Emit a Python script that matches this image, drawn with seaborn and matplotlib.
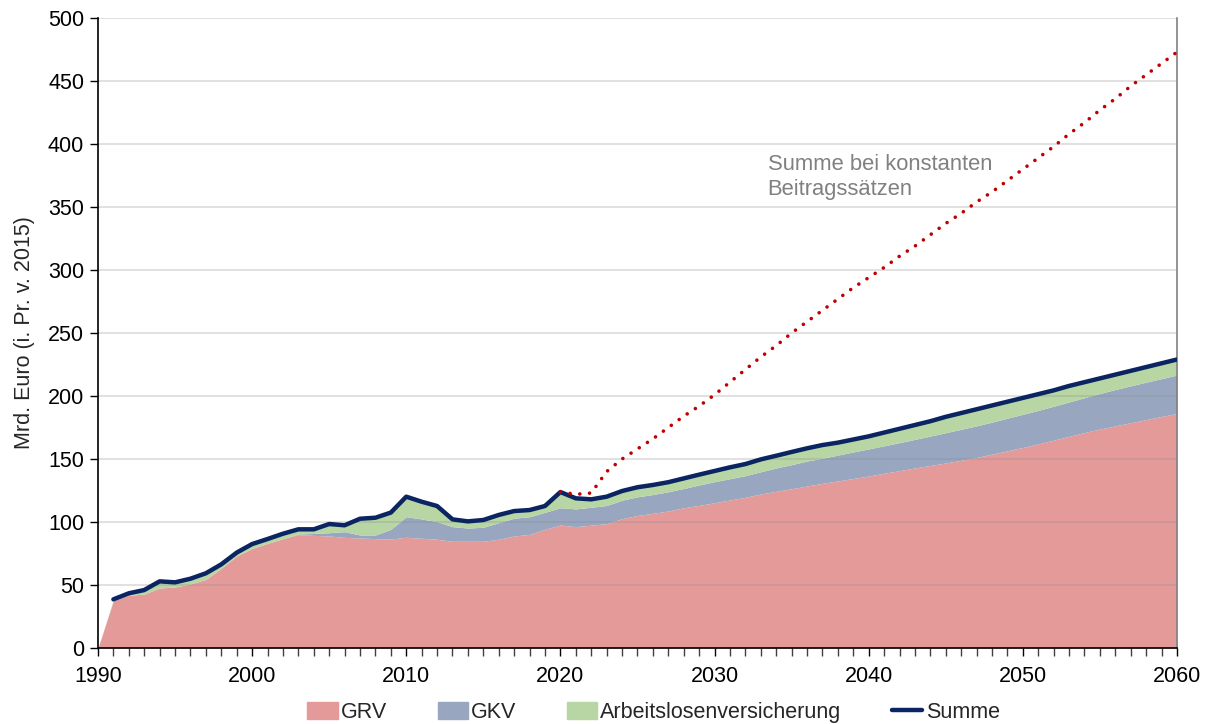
import numpy as np
import pandas as pd
import matplotlib
matplotlib.use('Agg')
import matplotlib.pyplot as plt
from matplotlib.ticker import MultipleLocator
from matplotlib.patches import Patch
from matplotlib.lines import Line2D
import seaborn as sns

# Jahre 1990 - 2060
years = list(range(1990, 2061))

# Gesetzliche Rentenversicherung (Mrd. Euro)
grv = [0, 37.5, 41.8, 42.8, 47.6, 48.4, 50.8, 54.5, 63.2, 73.0,
       79.0, 83.0, 86.8, 90.0, 89.4, 88.9, 87.8, 87.3, 86.8, 86.5,
       87.9, 87.1, 86.3, 84.7, 84.7, 84.7, 86.3, 88.9, 90.2, 94.2,
       97.6, 96.3, 97.5, 98.7, 102.6, 105.2, 106.9, 108.7, 111.3, 113.2,
       115.3, 117.5, 119.6, 122.2, 124.4, 126.4, 128.6, 130.7, 132.6, 134.5,
       136.5, 138.7, 140.8, 142.9, 144.9, 146.9, 149.0, 151.2, 153.9, 156.5,
       159.2, 162.0, 165.0, 168.0, 171.0, 173.8, 176.3, 178.8, 181.3, 183.8,
       186.2]

# Gesetzliche Krankenversicherung
gkv = [0, 0, 0, 0, 0, 0, 0, 0, 0, 0,
       0, 0, 0, 0.5, 1.5, 2.6, 4.5, 2.4, 2.9, 7.7,
       16.3, 15.3, 14.0, 11.6, 10.5, 11.1, 13.2, 14.1, 14.0, 13.5,
       13.7, 14.1, 14.2, 14.4, 14.7, 14.8, 14.9, 15.3, 15.3, 16.2,
       16.7, 16.9, 17.2, 17.7, 18.5, 19.1, 19.8, 19.9, 20.5, 21.1,
       21.5, 21.8, 22.2, 22.7, 23.3, 24.0, 24.6, 25.1, 25.4, 25.9,
       26.3, 26.6, 26.9, 27.3, 27.7, 28.2, 28.9, 29.3, 29.7, 30.0,
       30.5]

# Arbeitslosenversicherung
alv = [0, 1.1, 1.6, 3.2, 5.3, 3.7, 4.2, 4.8, 3.2, 2.7,
       3.5, 3.5, 3.9, 3.7, 3.3, 6.9, 5.1, 12.9, 13.7, 13.3,
       15.9, 13.7, 12.4, 5.8, 5.3, 5.8, 6.1, 5.7, 5.3, 5.0,
       12.5, 8.4, 6.3, 7.0, 7.3, 7.6, 7.6, 7.6, 8.0, 8.2,
       8.5, 9.0, 9.2, 9.8, 9.7, 10.1, 10.1, 10.5, 9.9, 9.9,
       10.0, 10.5, 11.0, 11.4, 11.8, 12.6, 12.9, 13.2, 13.2, 13.1,
       13.0, 12.9, 12.6, 12.7, 12.3, 12.0, 11.8, 11.9, 12.0, 12.2,
       12.3]

# Summe (ab 1991)
summe = [np.nan, 38.6, 43.4, 46.0, 52.9, 52.1, 55.0, 59.3, 66.4, 75.7,
         82.5, 86.5, 90.7, 94.2, 94.2, 98.4, 97.4, 102.6, 103.4, 107.5,
         120.1, 116.1, 112.7, 102.1, 100.5, 101.6, 105.6, 108.7, 109.5, 112.7,
         123.8, 118.8, 118.0, 120.1, 124.6, 127.6, 129.4, 131.6, 134.6, 137.6,
         140.5, 143.4, 146.0, 149.7, 152.6, 155.6, 158.5, 161.1, 163.0, 165.5,
         168.0, 171.0, 174.0, 177.0, 180.0, 183.5, 186.5, 189.5, 192.5, 195.5,
         198.5, 201.5, 204.5, 208.0, 211.0, 214.0, 217.0, 220.0, 223.0, 226.0,
         229.0]

# Summe bei konstanten Beitragssaetzen (2020 - 2060)
years_konst = list(range(2020, 2061))
summe_konst = [123.8, 122.0, 123.0, 140.0, 150.0, 158.0, 166.0, 175.0, 184.0, 192.0,
               201.0, 211.0, 221.0, 231.0, 240.0, 250.0, 259.0, 268.0, 277.0, 286.0,
               294.0, 302.0, 311.0, 319.0, 328.0, 337.0, 345.0, 354.0, 362.0, 371.0,
               380.0, 389.0, 398.0, 408.0, 417.0, 427.0, 436.0, 446.0, 455.0, 464.0,
               473.0]

df = pd.DataFrame({'Jahr': years, 'GRV': grv, 'GKV': gkv,
                   'Arbeitslosenversicherung': alv, 'Summe': summe})
df_konst = pd.DataFrame({'Jahr': years_konst, 'Summe': summe_konst})

sns.set_style('white')
plt.rcParams['font.family'] = ['Liberation Sans', 'DejaVu Sans']

c_grv = '#E59A9A'
c_gkv = '#99A6BF'
c_alv = '#B8D6A4'
c_sum = '#0B2462'
c_konst = '#C00000'
fs = 15.5

fig = plt.figure(figsize=(12.08, 7.24), dpi=100)
ax = fig.add_axes([0.0811, 0.105, 0.8932, 0.870])

ax.stackplot(df['Jahr'], df['GRV'], df['GKV'], df['Arbeitslosenversicherung'],
             colors=[c_grv, c_gkv, c_alv], linewidth=0, zorder=1)

sns.lineplot(data=df, x='Jahr', y='Summe', color=c_sum, linewidth=3.2,
             ax=ax, zorder=4)
sns.lineplot(data=df_konst, x='Jahr', y='Summe', color=c_konst, linewidth=2.6,
             linestyle=(0, (0.01, 2.7)), dash_capstyle='round', ax=ax, zorder=4)

ax.text(2033.45, 392, 'Summe bei konstanten\nBeitragssätzen', color='#808080',
        fontsize=15.8, ha='left', va='top', linespacing=1.22)

# Achsen
ax.set_xlim(1990, 2060)
ax.set_ylim(0, 500)
ax.xaxis.set_major_locator(MultipleLocator(10))
ax.xaxis.set_minor_locator(MultipleLocator(1))
ax.yaxis.set_major_locator(MultipleLocator(50))
ax.tick_params(axis='both', which='both', direction='out', colors='black',
               labelsize=fs, length=6, width=1)
ax.tick_params(axis='x', which='both', bottom=True, pad=7)
ax.tick_params(axis='y', which='major', left=True, pad=4)
ax.tick_params(axis='x', which='minor', color='#404040')

ax.grid(axis='y', color='#888888', alpha=0.3, linewidth=1.2)
ax.grid(axis='x', visible=False)
ax.set_axisbelow(False)

for side in ['left', 'bottom']:
    ax.spines[side].set_color('black')
    ax.spines[side].set_linewidth(1.2)
    ax.spines[side].set_zorder(5)
ax.spines['right'].set_color('#808080')
ax.spines['right'].set_linewidth(1.2)
ax.spines['top'].set_visible(False)

ax.set_xlabel('')
ax.set_ylabel('Mrd. Euro (i. Pr. v. 2015)', fontsize=fs, labelpad=9)

handles = [Patch(color=c_grv, label='GRV'),
           Patch(color=c_gkv, label='GKV'),
           Patch(color=c_alv, label='Arbeitslosenversicherung'),
           Line2D([0], [0], color=c_sum, linewidth=3.2, label='Summe')]
fig.legend(handles=handles, loc='center', bbox_to_anchor=(0.541, 0.016), ncol=4,
           frameon=False, fontsize=fs, handlelength=1.4, handleheight=0.8,
           handletextpad=0.15, columnspacing=2.35)

fig.savefig('out.png', dpi=100)
